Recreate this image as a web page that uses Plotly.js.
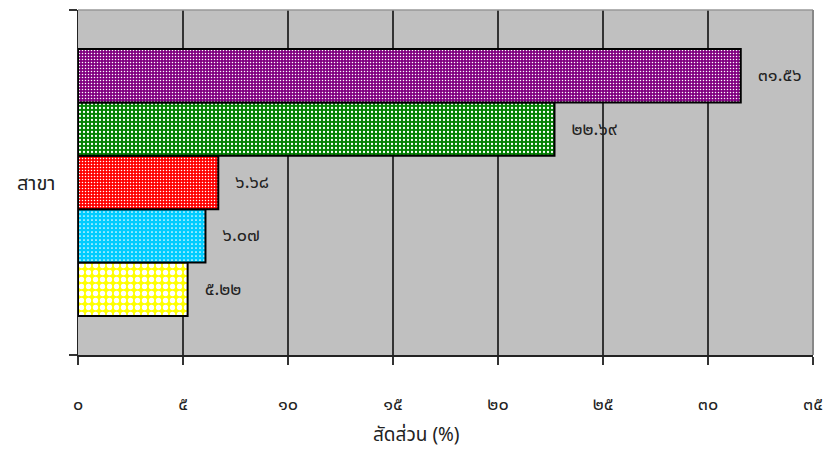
<!DOCTYPE html>
<html>
<head>
<meta charset="utf-8">
<script src="https://cdn.plot.ly/plotly-3.0.1.min.js"></script>
<style>html,body{margin:0;padding:0;background:#fff;}</style>
</head>
<body>
<div id="chart" style="width:829px;height:450px;"></div>
<script>
const category = ["สาขา"];
// order bottom -> top
const values = [5.22, 6.07, 6.68, 22.69, 31.56];
const labels = ["๕.๒๒", "๖.๐๗", "๖.๖๘", "๒๒.๖๙", "๓๑.๕๖"];
const colors = ["#ffff00", "#00ccff", "#ff0000", "#008000", "#800080"];
const tickVals = [0, 5, 10, 15, 20, 25, 30, 35];
const tickText = ["๐", "๕", "๑๐", "๑๕", "๒๐", "๒๕", "๓๐", "๓๕"];
const xTitle = "สัดส่วน (%)";

const FONT = "Tahoma, 'Noto Sans Thai', 'DejaVu Sans', sans-serif";
const patternSolidity = [0.45, 0.15, 0.2, 0.25, 0.2];
const patternSize = [7, 4, 3, 4, 3];

const traces = values.map((v, i) => ({
  type: "bar",
  orientation: "h",
  y: category,
  x: [v],
  text: ["   " + labels[i]],
  textposition: "outside",
  cliponaxis: false,
  textfont: {family: FONT, size: 18, color: "#222"},
  marker: {
    color: colors[i],
    line: {color: "#000", width: 2},
    pattern: {shape: ".", fgcolor: "#ffffff", bgcolor: colors[i], size: patternSize[i], solidity: patternSolidity[i]}
  },
  hoverinfo: "none",
  showlegend: false
}));

const layout = {
  width: 829, height: 450,
  margin: {l: 78, r: 16, t: 10, b: 95},
  paper_bgcolor: "#ffffff",
  plot_bgcolor: "#c0c0c0",
  barmode: "group",
  bargap: 0.226,
  bargroupgap: 0,
  font: {family: FONT, color: "#222"},
  xaxis: {
    range: [0, 35],
    tickvals: tickVals,
    ticktext: tickText,
    ticks: "outside", ticklen: 8, tickcolor: "#333", tickwidth: 1.5,
    ticklabelstandoff: 24,
    tickfont: {family: FONT, size: 18, color: "#222"},
    showgrid: true, gridcolor: "#333", gridwidth: 1.2,
    showline: true, linecolor: "#222", linewidth: 1.5,
    zeroline: false,
    mirror: false
  },
  yaxis: {
    type: "category",
    range: [-0.5, 0.5],
    tickson: "boundaries",
    ticks: "outside", ticklen: 8, tickcolor: "#333", tickwidth: 1.5,
    ticklabelstandoff: 17,
    tickfont: {family: FONT, size: 20, color: "#222"},
    showgrid: false,
    showline: true, linecolor: "#222", linewidth: 1.5,
    zeroline: false
  },
  shapes: [
    {type: "line", xref: "paper", yref: "paper", x0: 0, x1: 1, y0: 1, y1: 1, line: {color: "#999", width: 1.5}},
    {type: "line", xref: "paper", yref: "paper", x0: 1, x1: 1, y0: 0, y1: 1, line: {color: "#888", width: 2}}
  ],
  annotations: [
    {text: xTitle, xref: "paper", yref: "paper", x: 0.46, y: 0, yshift: -80, yanchor: "middle", xanchor: "center", showarrow: false,
     font: {family: FONT, size: 19, color: "#222"}}
  ]
};

Plotly.newPlot("chart", traces, layout, {displayModeBar: false, staticPlot: true});
</script>
</body>
</html>
